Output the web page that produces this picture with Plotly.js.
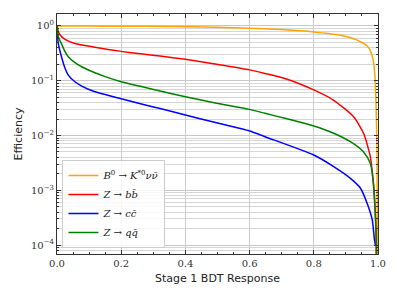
<!DOCTYPE html>
<html>
<head>
<meta charset="utf-8">
<script src="https://cdn.plot.ly/plotly-3.0.1.min.js"></script>
<style>html,body{margin:0;padding:0;background:#fff;}#chart{width:399px;height:299px;}</style>
</head>
<body>
<div id="chart"></div>
<script>
// Data
const sigX = [0, 0.1, 0.2, 0.336, 0.5, 0.6, 0.648, 0.7, 0.8, 0.85, 0.882, 0.897, 0.93, 0.944, 0.965, 0.975, 0.985, 0.99, 0.994, 0.997, 0.999];
const sigY = [1.0, 0.995, 0.99, 0.98, 0.95, 0.91, 0.89, 0.86, 0.78, 0.72, 0.685, 0.65, 0.57, 0.52, 0.44, 0.365, 0.24, 0.13, 0.035, 0.005, 1e-6];

const bbX = [0, 0.004, 0.009, 0.025, 0.056, 0.118, 0.15, 0.2, 0.26, 0.321, 0.4, 0.497, 0.6, 0.648, 0.71, 0.8, 0.862, 0.924, 0.955, 0.976, 0.986, 0.991, 0.994, 0.996];
const bbY = [1.0, 0.79, 0.69, 0.57, 0.48, 0.41, 0.38, 0.344, 0.31, 0.283, 0.246, 0.2, 0.158, 0.136, 0.11, 0.068, 0.044, 0.022, 0.011, 0.0041, 0.0012, 0.00044, 0.00015, 1e-6];

const ccX = [0, 0.004, 0.015, 0.025, 0.035, 0.056, 0.077, 0.118, 0.15, 0.2, 0.26, 0.321, 0.4, 0.497, 0.6, 0.648, 0.8, 0.862, 0.914, 0.945, 0.966, 0.982, 0.989, 0.992];
const ccY = [1.0, 0.48, 0.26, 0.169, 0.127, 0.096, 0.08, 0.063, 0.056, 0.0468, 0.038, 0.031, 0.0237, 0.0171, 0.0121, 0.0095, 0.0044, 0.0027, 0.00165, 0.0011, 0.00058, 0.00029, 0.000125, 0.0001];

const qqX = [0, 0.004, 0.015, 0.025, 0.035, 0.056, 0.077, 0.118, 0.15, 0.2, 0.26, 0.321, 0.4, 0.497, 0.6, 0.648, 0.71, 0.8, 0.862, 0.914, 0.955, 0.976, 0.986, 0.991, 0.995, 0.997];
const qqY = [1.0, 0.64, 0.46, 0.34, 0.275, 0.214, 0.18, 0.14, 0.119, 0.096, 0.079, 0.065, 0.051, 0.039, 0.030, 0.0254, 0.0206, 0.0149, 0.011, 0.0077, 0.005, 0.0031, 0.00134, 0.00044, 0.0001, 1e-6];

const seriesNames = [
  '<i>B</i><sup>0</sup> → <i>K</i><sup>*0</sup><i>νν̄</i>',
  '<i>Z</i> → <i>bb̄</i>',
  '<i>Z</i> → <i>cc̄</i>',
  '<i>Z</i> → <i>qq̄</i>'
];
const seriesColors = ['orange', 'red', 'blue', 'green'];

const yTickVals = [1, 0.1, 0.01, 0.001, 0.0001];
const yTickText = ['10<sup>0</sup>', '10<sup>−1</sup>', '10<sup>−2</sup>', '10<sup>−3</sup>', '10<sup>−4</sup>'];
const xTickVals = [0, 0.2, 0.4, 0.6, 0.8, 1.0];
const xTickText = ['0.0', '0.2', '0.4', '0.6', '0.8', '1.0'];

const yMinor = [];
for (let e = -5; e <= 0; e++) for (let m = 2; m <= 9; m++) yMinor.push(m * Math.pow(10, e));

const xs = [sigX, bbX, ccX, qqX];
const ys = [sigY, bbY, ccY, qqY];
const traces = xs.map((x, i) => ({
  x: x, y: ys[i], type: 'scatter', mode: 'lines', name: seriesNames[i],
  line: {color: seriesColors[i], width: 1.5, shape: 'spline', smoothing: 0.6}
}));

const layout = {
  width: 399, height: 299,
  margin: {l: 57, r: 21, t: 14, b: 45},
  paper_bgcolor: '#fff', plot_bgcolor: '#fff',
  showlegend: true,
  legend: {
    x: 0.017, y: 0.025, xanchor: 'left', yanchor: 'bottom',
    bgcolor: 'rgba(255,255,255,0.85)', bordercolor: '#cccccc', borderwidth: 1,
    font: {family: 'DejaVu Serif', size: 10, color: '#222'},
    itemwidth: 30, tracegroupgap: 0
  },
  xaxis: {
    range: [0, 1], tickmode: 'array', tickvals: xTickVals, ticktext: xTickText,
    ticks: 'inside', ticklen: 4, tickcolor: '#333', mirror: 'allticks',
    showline: true, linecolor: '#333', linewidth: 1,
    showgrid: true, gridcolor: '#cccccc', gridwidth: 1, zeroline: false,
    tickfont: {family: 'DejaVu Serif', size: 10, color: '#333'},
    minor: {dtick: 0.05, ticks: 'inside', ticklen: 2, tickcolor: '#333', showgrid: false},
    title: {text: 'Stage 1 BDT Response', font: {family: 'DejaVu Sans', size: 11, color: '#222'}, standoff: 6}
  },
  yaxis: {
    type: 'log', range: [-4.164, 0.219], tickmode: 'array', tickvals: yTickVals, ticktext: yTickText,
    ticks: 'inside', ticklen: 4, tickcolor: '#333', mirror: 'allticks',
    showline: true, linecolor: '#333', linewidth: 1,
    showgrid: true, gridcolor: '#c8c8c8', gridwidth: 1, zeroline: false,
    tickfont: {family: 'DejaVu Serif', size: 10, color: '#333'},
    minor: {tickmode: 'array', tickvals: yMinor, ticks: 'inside', ticklen: 2, tickcolor: '#333', showgrid: true, gridcolor: '#d6d6d6', gridwidth: 1},
    title: {text: 'Efficiency', font: {family: 'DejaVu Sans', size: 11, color: '#222'}, standoff: 6}
  }
};

Plotly.newPlot('chart', traces, layout, {staticPlot: true, displayModeBar: false});
</script>
</body>
</html>
